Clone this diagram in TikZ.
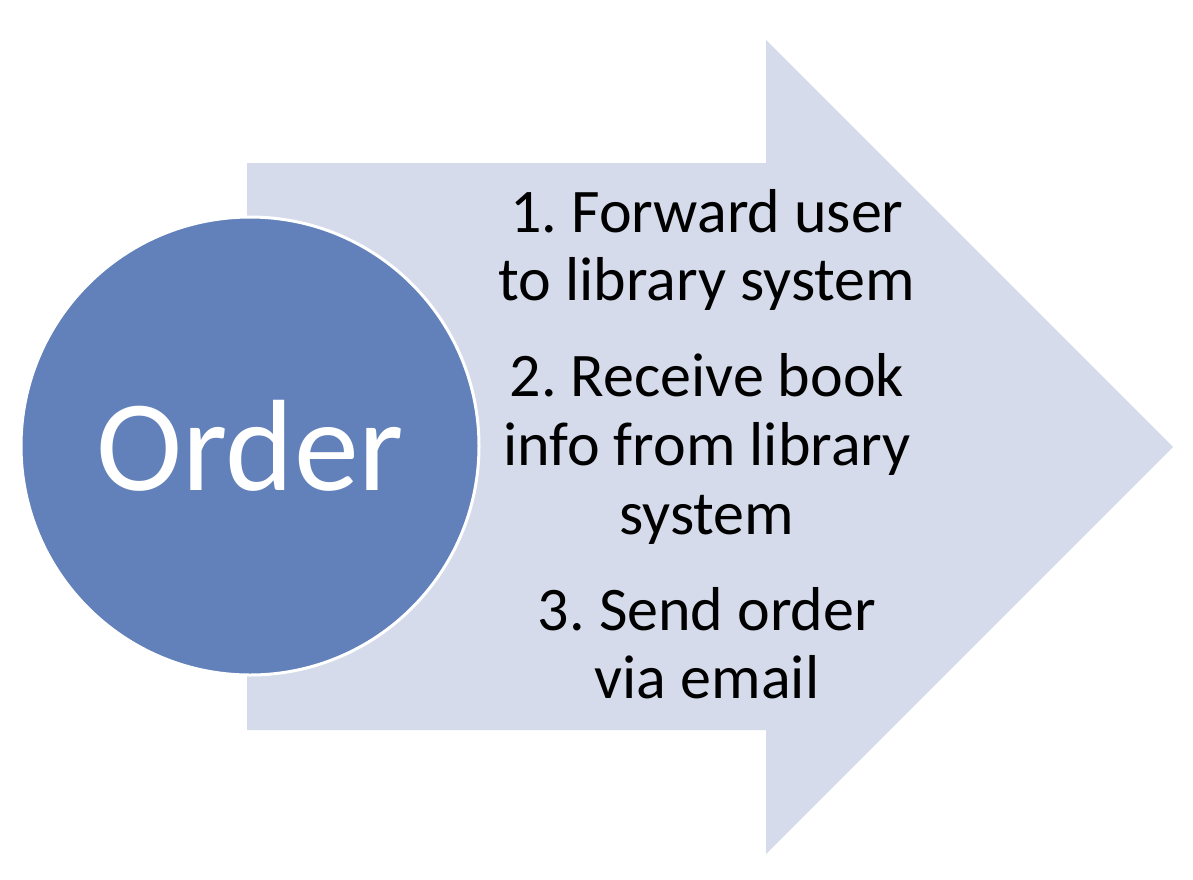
\documentclass[tikz,border=0pt]{standalone}
\usepackage{fontspec}
\setmainfont{Carlito}
\usepackage{tikz}
\definecolor{arrowfill}{HTML}{D5DBEA}
\definecolor{circlefill}{HTML}{6281BA}
\frenchspacing

\begin{document}
\begin{tikzpicture}[x=1pt,y=-1pt]%one unit is one pixel of the reference
\useasboundingbox (0,0) rectangle (1193,879);
\fill [arrowfill] (247,163)--(766,163)--(766,40)--(1173,447)--(766,854)--(766,730)--(247,730)--cycle;
\node [circle, fill=circlefill, draw=white, line width=3pt, minimum size=458pt, inner sep=0pt,
  text=white, font=\fontsize{130}{156}\selectfont] (order) at (250,446) {Order};
\node [align=center, anchor=base, inner sep=0pt, font=\fontsize{62}{68}\selectfont] (forward) at (707,300) {1. Forward user\\to library system};
\node [align=center, anchor=base, inner sep=0pt, font=\fontsize{62}{69}\selectfont] (receive) at (707,534) {2. Receive book\\info from library\\system};
\node [align=center, anchor=base, inner sep=0pt, font=\fontsize{62}{68}\selectfont] (send) at (707,698) {3. Send order\\via email};
\end{tikzpicture}
\end{document}
